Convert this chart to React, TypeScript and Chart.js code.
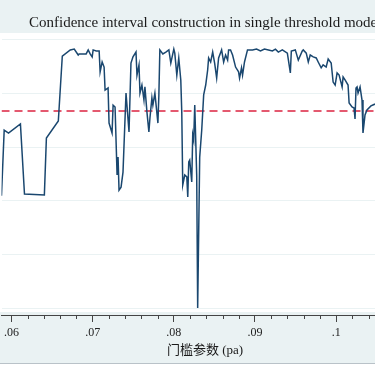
import React, { useEffect, useRef } from "react";
import { Chart, registerables } from "chart.js";

Chart.register(...registerables);

// threshold parameter (pa) grid
const thresholds = [
  0.05850, 0.05877, 0.05910, 0.05963, 0.06110, 0.06160, 0.06405, 0.06430, 0.06577, 0.06626,
  0.06724, 0.06773, 0.06822, 0.06834, 0.06920, 0.06945, 0.06969, 0.06994, 0.07006, 0.07043,
  0.07080, 0.07092, 0.07117, 0.07141, 0.07153, 0.07190, 0.07202, 0.07239, 0.07252, 0.07276,
  0.07301, 0.07313, 0.07325, 0.07350, 0.07374, 0.07411, 0.07448, 0.07472, 0.07497, 0.07534,
  0.07546, 0.07571, 0.07583, 0.07607, 0.07632, 0.07644, 0.07669, 0.07693, 0.07706, 0.07730,
  0.07742, 0.07767, 0.07804, 0.07816, 0.07828, 0.07865, 0.07902, 0.07939, 0.07963, 0.08000,
  0.08012, 0.08037, 0.08061, 0.08086, 0.08098, 0.08110, 0.08135, 0.08160, 0.08172, 0.08184,
  0.08196, 0.08221, 0.08233, 0.08245, 0.08258, 0.08282, 0.08294, 0.08319, 0.08344, 0.08368,
  0.08393, 0.08417, 0.08429, 0.08454, 0.08479, 0.08503, 0.08528, 0.08552, 0.08589, 0.08614,
  0.08638, 0.08663, 0.08675, 0.08699, 0.08724, 0.08761, 0.08798, 0.08810, 0.08834, 0.08847,
  0.08871, 0.08908, 0.08970, 0.09019, 0.09068, 0.09117, 0.09166, 0.09215, 0.09252, 0.09288,
  0.09337, 0.09399, 0.09436, 0.09448, 0.09497, 0.09534, 0.09583, 0.09595, 0.09632, 0.09657,
  0.09681, 0.09718, 0.09755, 0.09779, 0.09816, 0.09840, 0.09877, 0.09902, 0.09939, 0.09963,
  0.09988, 0.10012, 0.10037, 0.10074, 0.10086, 0.10110, 0.10147, 0.10160, 0.10196, 0.10221,
  0.10233, 0.10245, 0.10258, 0.10270, 0.10295, 0.10319, 0.10331, 0.10356, 0.10380, 0.10429,
  0.10479, 0.10540,
];

// LR statistic
const lrValues = [
  4.22, 4.22, 6.64, 6.53, 6.87, 4.25, 4.22, 6.34, 6.98, 9.40,
  9.63, 9.66, 9.44, 9.48, 9.48, 9.63, 9.48, 9.37, 9.63, 9.59,
  9.59, 8.81, 9.18, 8.99, 8.13, 8.21, 6.90, 6.53, 7.57, 7.50,
  4.96, 5.63, 4.40, 4.51, 5.07, 8.02, 6.57, 9.14, 9.37, 9.55,
  8.69, 9.07, 8.02, 8.32, 7.76, 8.25, 7.31, 6.57, 7.09, 7.84,
  7.57, 8.02, 6.90, 7.95, 9.63, 9.48, 9.55, 9.63, 9.14, 9.66,
  9.51, 8.69, 9.33, 8.51, 7.31, 4.59, 4.96, 4.89, 4.14, 5.45,
  5.52, 4.70, 6.46, 6.27, 7.57, 4.96, 0.00, 5.63, 6.64, 7.95,
  8.32, 8.88, 9.33, 9.18, 9.55, 9.14, 8.58, 9.33, 9.63, 9.18,
  9.44, 9.25, 9.63, 9.63, 9.44, 8.99, 8.81, 8.58, 8.96, 8.69,
  9.18, 9.63, 9.63, 9.66, 9.59, 9.66, 9.63, 9.59, 9.66, 9.55,
  9.63, 9.51, 8.77, 9.59, 9.63, 9.25, 9.59, 9.63, 9.51, 9.18,
  9.44, 9.37, 9.33, 9.18, 8.96, 9.07, 8.99, 9.29, 9.14, 8.43,
  8.32, 8.77, 8.69, 8.25, 8.62, 8.51, 8.32, 7.65, 7.50, 7.46,
  7.05, 8.21, 8.25, 8.02, 8.25, 7.76, 6.53, 7.20, 7.39, 7.54,
  7.61, 7.65,
];

const criticalValue = 7.35;
const xMajorTicks = [0.06, 0.07, 0.08, 0.09, 0.1];
const xTickLabels = [".06", ".07", ".08", ".09", ".1"];
const xMinorTicks = [
  0.058, 0.062, 0.064, 0.066, 0.068, 0.072, 0.074, 0.076, 0.078,
  0.082, 0.084, 0.086, 0.088, 0.092, 0.094, 0.096, 0.098, 0.102, 0.104,
];
const yGridValues = [0, 2, 4, 6, 8, 10];

const titleText = "Confidence interval construction in single threshold model";
const xAxisTitle = "门槛参数 (pa)";

const X_MIN = 0.05877;
const X_MAX = 0.10479;
const Y_MIN = -0.261;
const Y_MAX = 10.261;

const GRAPH_BG = "#eaf2f3";

const decorPlugin = {
  id: "decor",
  beforeDraw(chart: any) {
    const { ctx, width, height, chartArea } = chart;
    ctx.save();
    ctx.fillStyle = GRAPH_BG;
    ctx.fillRect(0, 0, width, height);
    ctx.fillStyle = "#ffffff";
    ctx.fillRect(0, chartArea.top, width, chartArea.bottom - 3 - chartArea.top);
    // bottom border
    ctx.fillStyle = "#ffffff";
    ctx.fillRect(0, 364, width, height - 364);
    ctx.strokeStyle = "#b9c2c8";
    ctx.lineWidth = 1;
    ctx.beginPath();
    ctx.moveTo(0, 363.5);
    ctx.lineTo(width, 363.5);
    ctx.stroke();
    ctx.restore();
  },
  beforeDatasetsDraw(chart: any) {
    const { ctx, chartArea } = chart;
    ctx.save();
    ctx.fillStyle = "#ffffff";
    ctx.fillRect(0, chartArea.top, 2, chartArea.bottom - 3 - chartArea.top);
    ctx.restore();
  },
  afterDraw(chart: any) {
    const { ctx, chartArea } = chart;
    const xs = chart.scales.x;
    ctx.save();
    // minor ticks
    ctx.strokeStyle = "#444";
    ctx.lineWidth = 1;
    ctx.beginPath();
    for (const v of xMinorTicks) {
      const px = Math.round(xs.getPixelForValue(v)) + 0.5;
      ctx.moveTo(px, chartArea.bottom);
      ctx.lineTo(px, chartArea.bottom + 4);
    }
    ctx.stroke();
    // title
    ctx.fillStyle = "#1a1a1a";
    ctx.font = '15px "Liberation Serif", "Times New Roman", serif';
    ctx.textBaseline = "middle";
    ctx.textAlign = "left";
    ctx.fillText(titleText, 29, 23);
    // x axis title
    ctx.font = '13px "Liberation Serif", "Noto Sans CJK SC", serif';
    ctx.textAlign = "center";
    ctx.fillStyle = "#1a1a1a";
    ctx.fillText(xAxisTitle, 205, 351);
    ctx.restore();
  },
};

export default function App() {
  const canvasRef = useRef<HTMLCanvasElement | null>(null);

  useEffect(() => {
    const canvas = canvasRef.current;
    if (!canvas) return;
    const curve = thresholds.map((x, i) => ({ x, y: lrValues[i] }));
    const chart = new Chart(canvas, {
      type: "line",
      data: {
        datasets: [
          {
            data: curve,
            borderColor: "#1a476f",
            borderWidth: 1.5,
            pointRadius: 0,
            tension: 0,
            fill: false,
          },
          {
            data: [
              { x: X_MIN, y: criticalValue },
              { x: X_MAX, y: criticalValue },
            ],
            borderColor: "#dc2340",
            borderWidth: 1.5,
            borderDash: [8, 5],
            pointRadius: 0,
            fill: false,
          },
        ],
      },
      options: {
        responsive: false,
        animation: false,
        devicePixelRatio: 1,
        layout: { padding: { top: 33, left: 0, right: 0, bottom: 0 } },
        plugins: {
          legend: { display: false },
          tooltip: { enabled: false },
          title: { display: false },
        },
        scales: {
          x: {
            type: "linear",
            min: X_MIN,
            max: X_MAX,
            afterBuildTicks: (s: any) => {
              s.ticks = xMajorTicks.map((v) => ({ value: v }));
            },
            afterFit: (s: any) => {
              s.height = 51;
            },
            grid: {
              drawOnChartArea: false,
              drawTicks: true,
              tickLength: 7,
              color: "#444",
              tickColor: "#444",
            },
            border: { display: true, color: "#444", width: 1 },
            ticks: {
              autoSkip: false,
              maxRotation: 0,
              padding: 4,
              color: "#222",
              font: { family: '"Liberation Serif", serif', size: 12 },
              callback: (_v: any, i: number) => xTickLabels[i],
            },
          },
          y: {
            type: "linear",
            min: Y_MIN,
            max: Y_MAX,
            afterBuildTicks: (s: any) => {
              s.ticks = yGridValues.map((v) => ({ value: v }));
            },
            afterFit: (s: any) => {
              s.width = 0;
            },
            ticks: { display: false },
            grid: { color: GRAPH_BG, drawTicks: false, lineWidth: 1 },
            border: { display: false },
          },
        },
      },
      plugins: [decorPlugin],
    });
    return () => chart.destroy();
  }, []);

  return (
    <div style={{ position: "absolute", left: 0, top: 0, width: 375, height: 366 }}>
      <canvas ref={canvasRef} width={375} height={366} style={{ display: "block" }} />
    </div>
  );
}
